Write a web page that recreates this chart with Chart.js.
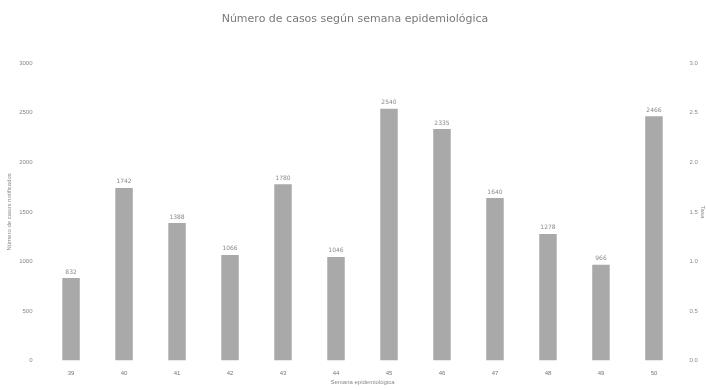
<!DOCTYPE html>
<html>
<head>
<meta charset="utf-8">
<script src="https://cdn.jsdelivr.net/npm/chart.js@4"></script>
<style>
  body { margin: 0; background: #fff; }
  #wrap { width: 706px; height: 390px; }
</style>
</head>
<body>
<div id="wrap"><canvas id="casos-chart" width="706" height="390"></canvas></div>
<script>
const semanas = ['39', '40', '41', '42', '43', '44', '45', '46', '47', '48', '49', '50'];
const casos = [832, 1742, 1388, 1066, 1780, 1046, 2540, 2335, 1640, 1278, 966, 2466];
const ticksIzq = [0, 500, 1000, 1500, 2000, 2500, 3000];
const ticksDer = [0, 0.5, 1, 1.5, 2, 2.5, 3];

// etiquetas de valor encima de cada barra
const valueLabels = {
    id: 'valueLabels',
    afterDatasetsDraw(chart) {
        const ctx = chart.ctx;
        const meta = chart.getDatasetMeta(0);
        ctx.save();
        ctx.font = '6px "DejaVu Sans"';
        ctx.fillStyle = '#8a8a8a';
        ctx.textAlign = 'center';
        ctx.textBaseline = 'bottom';
        meta.data.forEach((bar, i) => {
            ctx.fillText(casos[i], bar.x, bar.y - 3);
        });
        ctx.restore();
    }
};

const ctx = document.getElementById('casos-chart').getContext('2d');
new Chart(ctx, {
    type: 'bar',
    data: {
        labels: semanas,
        datasets: [{
            label: 'Casos',
            data: casos,
            backgroundColor: '#a9a9a9',
            borderWidth: 0,
            barPercentage: 0.33,
            categoryPercentage: 1,
            yAxisID: 'y'
        }]
    },
    options: {
        responsive: false,
        animation: false,
        layout: { padding: { top: 6, right: 0, left: 4, bottom: 3 } },
        plugins: {
            legend: { display: false },
            tooltip: { enabled: false },
            title: {
                display: true,
                text: 'Número de casos según semana epidemiológica',
                color: '#7a7a7a',
                font: { family: 'DejaVu Sans', size: 11, weight: 'normal' },
                padding: { top: 7, bottom: 37 }
            }
        },
        scales: {
            x: {
                grid: { display: false },
                border: { display: false },
                ticks: { color: '#777', font: { size: 6 }, padding: 1 },
                title: {
                    display: true,
                    text: 'Semana epidemiológica',
                    color: '#888',
                    font: { size: 6 },
                    padding: { top: 1, bottom: 1 }
                }
            },
            y: {
                position: 'left',
                min: 0,
                max: 3000,
                afterBuildTicks: axis => { axis.ticks = ticksIzq.map(v => ({ value: v })); },
                grid: { display: false },
                border: { display: false },
                ticks: { color: '#888', font: { size: 6 }, padding: 4, callback: v => String(v) },
                title: {
                    display: true,
                    text: 'Número de casos notificados',
                    color: '#888',
                    font: { size: 6 },
                    padding: 2
                }
            },
            y2: {
                position: 'right',
                min: 0,
                max: 3,
                afterBuildTicks: axis => { axis.ticks = ticksDer.map(v => ({ value: v })); },
                grid: { display: false },
                border: { display: false },
                ticks: { color: '#888', font: { size: 6 }, padding: 1, callback: v => v.toFixed(1) },
                title: {
                    display: true,
                    text: 'Tasa',
                    color: '#888',
                    font: { size: 6 },
                    padding: 0
                }
            }
        }
    },
    plugins: [valueLabels]
});
</script>
</body>
</html>
